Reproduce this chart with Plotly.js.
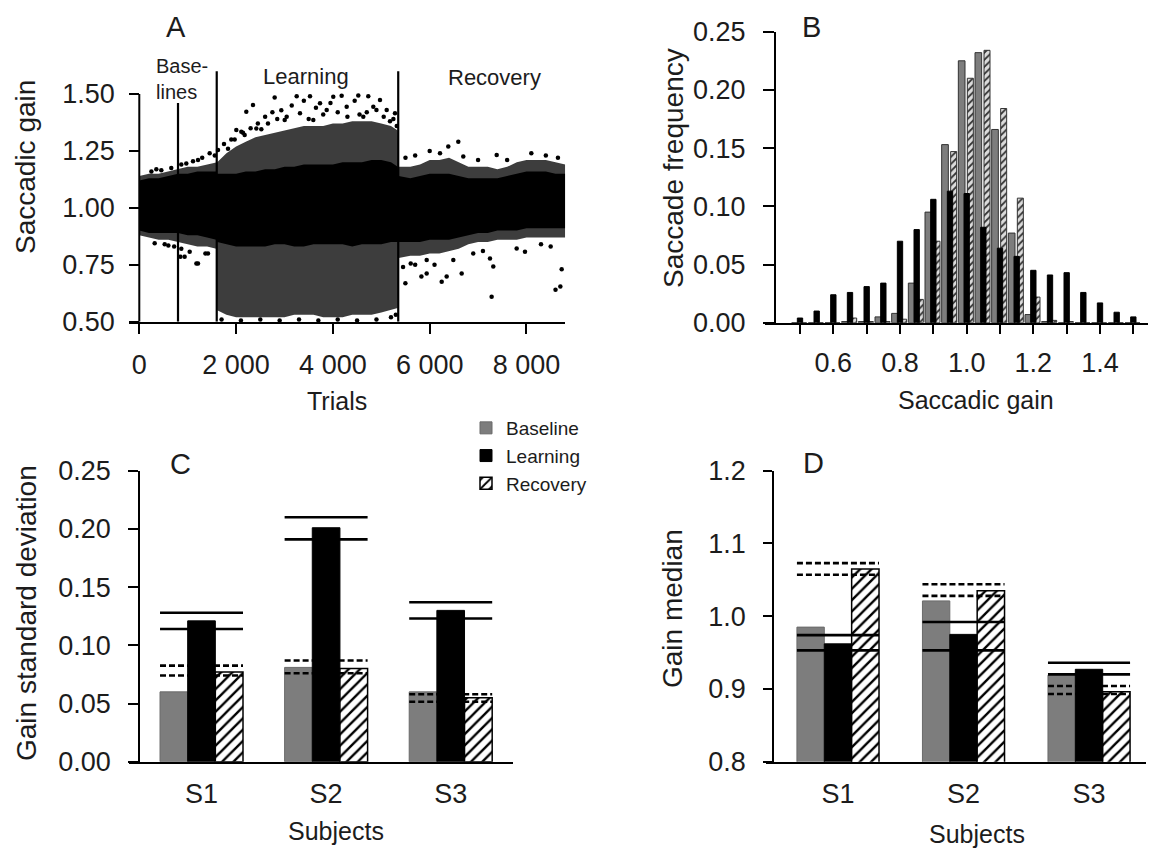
<!DOCTYPE html>
<html>
<head>
<meta charset="utf-8">
<script src="https://cdn.plot.ly/plotly-3.0.1.min.js"></script>
<style>html,body{margin:0;padding:0;background:#fff;}#chart{width:1149px;height:848px;}</style>
</head>
<body>
<div id="chart"></div>
<script>
// ---------------- DATA ----------------
// Panel A: saccadic gain per trial (cloud read as envelopes + individual outlying dots)
const aGrid = [0,200,400,600,800,1000,1200,1400,1590, 1610,1800,2000,2200,2400,2600,2800,3000,3200,3400,3600,3800,4000,4200,4400,4600,4800,5000,5200,5340, 5360,5600,5800,6000,6200,6400,6600,6800,7000,7200,7400,7600,7800,8000,8200,8400,8600,8800];
const aCoreLow  = [0.90,0.89,0.89,0.89,0.89,0.88,0.88,0.87,0.86, 0.85,0.84,0.83,0.83,0.83,0.83,0.84,0.84,0.83,0.83,0.84,0.84,0.84,0.84,0.83,0.84,0.84,0.84,0.85,0.85, 0.85,0.85,0.85,0.86,0.86,0.86,0.87,0.88,0.89,0.89,0.90,0.90,0.90,0.91,0.91,0.91,0.91,0.91];
const aCoreHigh = [1.12,1.13,1.13,1.14,1.15,1.15,1.16,1.16,1.16, 1.15,1.15,1.15,1.16,1.16,1.17,1.17,1.18,1.18,1.19,1.19,1.19,1.19,1.20,1.20,1.20,1.21,1.21,1.20,1.18, 1.14,1.13,1.14,1.15,1.15,1.15,1.14,1.13,1.13,1.13,1.13,1.14,1.15,1.16,1.16,1.16,1.15,1.15];
const aOuterLow  = [0.88,0.87,0.86,0.86,0.85,0.84,0.83,0.83,0.82, 0.55,0.53,0.52,0.52,0.52,0.52,0.52,0.52,0.53,0.53,0.53,0.52,0.52,0.52,0.53,0.53,0.53,0.54,0.55,0.56, 0.78,0.79,0.79,0.80,0.80,0.81,0.82,0.84,0.85,0.85,0.86,0.86,0.86,0.87,0.87,0.87,0.87,0.87];
const aOuterHigh = [1.14,1.15,1.15,1.16,1.17,1.18,1.18,1.19,1.20, 1.20,1.24,1.27,1.29,1.31,1.32,1.33,1.34,1.35,1.36,1.36,1.36,1.37,1.37,1.38,1.38,1.38,1.37,1.36,1.34, 1.18,1.18,1.19,1.21,1.21,1.22,1.20,1.18,1.18,1.18,1.17,1.18,1.20,1.21,1.21,1.21,1.20,1.19];
const aDotTrials = [318,525,868,937,1041,1213,1419,849,1180,1366,600,720,
  352,455,661,868,971,1110,1213,1454,1560,1300,250,
  1626,1833,2211,2349,2797,2005,2108,2177,1971,2143,2418,2521,2659,2934,3004,3252,3527,4008,4181,4525,4731,3734,3872,4285,4973,5112,5283,3045,3320,3595,4628,4835,5180,2600,2750,3150,3400,3650,3950,4100,4450,4900,5050,5250,3800,4300,4700,2850,2450,1750,1900,2300,3500,4550,5320,
  1700,2100,2500,2900,3300,3700,4100,4500,4900,5200,5300,
  6591,6384,6213,6694,7384,5938,6248,6351,6661,7246,7314,7280,7797,7969,8727,5938,6488,5608,5829,5498,8600,8700,5500,5700,6000,7000,7600,8100,8400,8650,6900,7100,8300,8500,5450,5700,6100];
const aDotGains = [0.845,0.840,0.820,0.785,0.807,0.756,0.800,0.785,0.756,0.800,0.835,0.830,
  1.170,1.165,1.175,1.190,1.195,1.205,1.210,1.240,1.230,1.220,1.160,
  1.254,1.260,1.422,1.452,1.485,1.342,1.334,1.320,1.300,1.330,1.349,1.345,1.371,1.429,1.386,1.490,1.490,1.488,1.492,1.493,1.490,1.459,1.430,1.444,1.474,1.430,1.415,1.400,1.415,1.386,1.400,1.444,1.380,1.400,1.420,1.450,1.470,1.440,1.460,1.420,1.470,1.430,1.400,1.390,1.410,1.400,1.420,1.390,1.370,1.280,1.300,1.350,1.390,1.410,1.360,
  0.510,0.505,0.510,0.505,0.510,0.505,0.510,0.505,0.510,0.520,0.530,
  1.290,1.269,1.240,1.225,1.232,0.712,0.676,0.698,0.712,0.778,0.742,0.610,0.822,0.807,0.730,0.771,0.771,0.756,0.698,0.669,0.640,0.655,1.220,1.230,1.250,1.210,1.210,1.240,1.230,1.220,0.800,0.810,0.840,0.830,0.740,0.750,0.750];
const phaseLineTrials = [800, 1600, 5350];
const phaseLineTops = [1.46, 1.60, 1.60];
const aTickVals = [0, 2000, 4000, 6000, 8000];
const aTickText = ['0', '2 000', '4 000', '6 000', '8 000'];

// Panel B: saccade frequency histograms
const binCenters = [0.50,0.55,0.60,0.65,0.70,0.75,0.80,0.85,0.90,0.95,1.00,1.05,1.10,1.15,1.20,1.25,1.30,1.35,1.40,1.45,1.50];
const freqBaseline = [0,0,0,0.001,0.001,0.005,0.008,0.034,0.095,0.153,0.225,0.232,0.166,0.077,0.007,0.001,0,0,0,0,0];
const freqLearning = [0.004,0.010,0.024,0.026,0.031,0.034,0.070,0.080,0.106,0.113,0.111,0.082,0.064,0.057,0.045,0.041,0.043,0.026,0.017,0.009,0.005];
const freqRecovery = [0,0,0,0.004,0.001,0.001,0.003,0.020,0.070,0.147,0.210,0.234,0.184,0.107,0.022,0.002,0.001,0,0,0,0];
const bTickVals = [0.5,0.6,0.7,0.8,0.9,1.0,1.1,1.2,1.3,1.4,1.5];
const bTickText = ['','0.6','','0.8','','1.0','','1.2','','1.4',''];

// Panels C and D
const subjects = ['S1', 'S2', 'S3'];
const sdBaseline = [0.060, 0.081, 0.060];
const sdLearning = [0.121, 0.201, 0.130];
const sdRecovery = [0.077, 0.080, 0.055];
const sdSolidHi = [0.128, 0.210, 0.137];
const sdSolidLo = [0.114, 0.191, 0.123];
const sdDashHi = [0.0825, 0.087, 0.058];
const sdDashLo = [0.074, 0.076, 0.0515];

const medBaseline = [0.985, 1.021, 0.919];
const medLearning = [0.962, 0.975, 0.927];
const medRecovery = [1.065, 1.035, 0.896];
const medSolidHi = [0.974, 0.992, 0.936];
const medSolidLo = [0.953, 0.953, 0.920];
const medDashHi = [1.073, 1.044, 0.904];
const medDashLo = [1.057, 1.028, 0.893];

// ---------------- HELPERS ----------------
const W = 1149, H = 848;
const fx = px => px / W;
const fy = py => 1 - py / H;
const FONT = 'Liberation Sans, Arial, Helvetica, sans-serif';
const TXT = '#1c1c1c';
const GRAY = '#7d7d7d';
const subjIdx = subjects.map((s, i) => i);

function segs(vals, half) {
  const x = [], y = [];
  vals.forEach((v, i) => { x.push(i - half, i + half, null); y.push(v, v, null); });
  return {x, y};
}

const traces = [];
// ---- Panel A ----
traces.push({x: aGrid, y: aOuterLow, xaxis: 'x', yaxis: 'y', mode: 'lines', line: {width: 0, color: 'rgba(0,0,0,0)'}, showlegend: false, hoverinfo: 'skip'});
traces.push({x: aGrid, y: aOuterHigh, xaxis: 'x', yaxis: 'y', mode: 'lines', fill: 'tonexty', fillcolor: 'rgba(0,0,0,0.76)', line: {width: 0, color: 'rgba(0,0,0,0)'}, showlegend: false, hoverinfo: 'skip'});
traces.push({x: aGrid, y: aCoreLow, xaxis: 'x', yaxis: 'y', mode: 'lines', line: {width: 0, color: 'rgba(0,0,0,0)'}, showlegend: false, hoverinfo: 'skip'});
traces.push({x: aGrid, y: aCoreHigh, xaxis: 'x', yaxis: 'y', mode: 'lines', fill: 'tonexty', fillcolor: '#000', line: {width: 0, color: 'rgba(0,0,0,0)'}, showlegend: false, hoverinfo: 'skip'});
traces.push({x: aDotTrials, y: aDotGains, xaxis: 'x', yaxis: 'y', mode: 'markers', marker: {size: 4.5, color: '#000'}, showlegend: false, cliponaxis: false});
(function(){
  const x = [], y = [];
  phaseLineTrials.forEach((t, i) => { x.push(t, t, null); y.push(0.5, phaseLineTops[i], null); });
  traces.push({x, y, xaxis: 'x', yaxis: 'y', mode: 'lines', line: {color: '#000', width: 2.2}, showlegend: false});
})();

// ---- Panel B ----
traces.push({type: 'bar', x: binCenters, y: freqBaseline, xaxis: 'x2', yaxis: 'y2', width: 0.02, offset: -0.025,
  marker: {color: GRAY, line: {color: '#333', width: 1}}, showlegend: false});
traces.push({type: 'bar', x: binCenters, y: freqRecovery, xaxis: 'x2', yaxis: 'y2', width: 0.018, offset: 0.002,
  marker: {color: '#dcdcdc', line: {color: '#333', width: 1}, pattern: {shape: '/', size: 5, solidity: 0.35, fgcolor: '#333', bgcolor: '#dcdcdc'}}, showlegend: false});
traces.push({type: 'bar', x: binCenters, y: freqLearning, xaxis: 'x2', yaxis: 'y2', width: 0.016, offset: -0.008,
  marker: {color: '#000', line: {color: '#000', width: 1}}, showlegend: false});

// ---- Panel C ----
const cW = 0.222;
traces.push({type: 'bar', name: 'Baseline', x: subjIdx, y: sdBaseline, xaxis: 'x3', yaxis: 'y3', width: cW, offset: -1.5 * cW,
  marker: {color: GRAY, line: {color: '#6a6a6a', width: 1}}, legendrank: 1});
traces.push({type: 'bar', name: 'Learning', x: subjIdx, y: sdLearning, xaxis: 'x3', yaxis: 'y3', width: cW, offset: -0.5 * cW,
  marker: {color: '#000', line: {color: '#000', width: 1}}, legendrank: 2});
traces.push({type: 'bar', name: 'Recovery', x: subjIdx, y: sdRecovery, xaxis: 'x3', yaxis: 'y3', width: cW, offset: 0.5 * cW,
  marker: {color: '#fff', line: {color: '#000', width: 1.5}, pattern: {shape: '/', size: 8, solidity: 0.3, fgcolor: '#000', bgcolor: '#fff'}}, legendrank: 3});
[[sdSolidHi, 'solid'], [sdSolidLo, 'solid'], [sdDashHi, '6px,3px'], [sdDashLo, '6px,3px']].forEach(([vals, dash]) => {
  const s = segs(vals, 1.5 * cW);
  traces.push({x: s.x, y: s.y, xaxis: 'x3', yaxis: 'y3', mode: 'lines', line: {color: '#000', width: 2.6, dash}, showlegend: false});
});

// ---- Panel D ----
const dW = 0.218;
traces.push({type: 'bar', x: subjIdx, y: medBaseline, xaxis: 'x4', yaxis: 'y4', width: dW, offset: -1.5 * dW,
  marker: {color: GRAY, line: {color: '#6a6a6a', width: 1}}, showlegend: false});
traces.push({type: 'bar', x: subjIdx, y: medLearning, xaxis: 'x4', yaxis: 'y4', width: dW, offset: -0.5 * dW,
  marker: {color: '#000', line: {color: '#000', width: 1}}, showlegend: false});
traces.push({type: 'bar', x: subjIdx, y: medRecovery, xaxis: 'x4', yaxis: 'y4', width: dW, offset: 0.5 * dW,
  marker: {color: '#fff', line: {color: '#000', width: 1.5}, pattern: {shape: '/', size: 8, solidity: 0.3, fgcolor: '#000', bgcolor: '#fff'}}, showlegend: false});
[[medSolidHi, 'solid'], [medSolidLo, 'solid'], [medDashHi, '6px,3px'], [medDashLo, '6px,3px']].forEach(([vals, dash]) => {
  const s = segs(vals, 1.5 * dW);
  traces.push({x: s.x, y: s.y, xaxis: 'x4', yaxis: 'y4', mode: 'lines', line: {color: '#000', width: 2.6, dash}, showlegend: false});
});

// ---------------- LAYOUT ----------------
const tickFont = {family: FONT, size: 27, color: TXT};
const baseAx = {showgrid: false, zeroline: false, linecolor: '#000', linewidth: 2, tickcolor: '#000', tickwidth: 2, tickfont: tickFont, fixedrange: true};

function ann(text, px, py, size, opts) {
  return Object.assign({text, x: fx(px), y: fy(py), xref: 'paper', yref: 'paper', showarrow: false,
    xanchor: 'center', yanchor: 'middle', font: {family: FONT, size, color: TXT}}, opts || {});
}

const layout = {
  width: W, height: H,
  margin: {l: 0, r: 0, t: 0, b: 0},
  paper_bgcolor: '#fff', plot_bgcolor: 'rgba(0,0,0,0)',
  barmode: 'overlay',
  hovermode: false,
  font: {family: FONT, color: TXT},
  showlegend: true,
  legend: {x: fx(466), y: fy(409), xanchor: 'left', yanchor: 'top', bgcolor: 'rgba(0,0,0,0)',
    font: {family: FONT, size: 19, color: TXT}, tracegroupgap: 0, itemwidth: 30, traceorder: 'normal'},
  xaxis: Object.assign({}, baseAx, {domain: [fx(128.5), fx(565.2)], range: [-223, 8800], anchor: 'y',
    tickmode: 'array', tickvals: aTickVals, ticktext: aTickText, ticks: 'outside', ticklen: 10, showline: true, ticklabelstandoff: 8}),
  yaxis: Object.assign({}, baseAx, {domain: [fy(321.7), fy(70.1)], range: [0.5, 1.605], anchor: 'free', position: fx(139.3),
    tickmode: 'array', tickvals: [0.5, 0.75, 1.0, 1.25, 1.5], tickformat: '.2f', ticks: 'outside', ticklen: 10, showline: false, ticklabelstandoff: 9}),
  xaxis2: Object.assign({}, baseAx, {domain: [fx(765), fx(1148)], range: [0.395, 1.544], anchor: 'y2',
    tickmode: 'array', tickvals: bTickVals, ticktext: bTickText, ticks: 'outside', ticklen: 9, showline: true, ticklabelstandoff: 6}),
  yaxis2: Object.assign({}, baseAx, {domain: [fy(322.7), fy(31.7)], range: [0, 0.25], anchor: 'free', position: fx(775),
    tickmode: 'array', tickvals: [0, 0.05, 0.10, 0.15, 0.20, 0.25], tickformat: '.2f', ticks: 'outside', ticklen: 11, showline: true, ticklabelstandoff: 12}),
  xaxis3: Object.assign({}, baseAx, {domain: [fx(128.5), fx(513)], range: [-0.586, 2.5], anchor: 'y3',
    tickmode: 'array', tickvals: subjIdx, ticktext: subjects, ticks: '', showline: true, ticklabelstandoff: 7}),
  yaxis3: Object.assign({}, baseAx, {domain: [fy(761.7), fy(470.7)], range: [0, 0.25], anchor: 'free', position: fx(139.2),
    tickmode: 'array', tickvals: [0, 0.05, 0.10, 0.15, 0.20, 0.25], tickformat: '.2f', ticks: 'outside', ticklen: 10, showline: true, ticklabelstandoff: 12}),
  xaxis4: Object.assign({}, baseAx, {domain: [fx(766.3), fx(1146)], range: [-0.571, 2.454], anchor: 'y4',
    tickmode: 'array', tickvals: subjIdx, ticktext: subjects, ticks: '', showline: true, ticklabelstandoff: 7}),
  yaxis4: Object.assign({}, baseAx, {domain: [fy(761.7), fy(470.7)], range: [0.8, 1.2], anchor: 'free', position: fx(773.3),
    tickmode: 'array', tickvals: [0.8, 0.9, 1.0, 1.1, 1.2], tickformat: '.1f', ticks: 'outside', ticklen: 9, showline: true, ticklabelstandoff: 12}),
  shapes: [
    {type: 'line', xref: 'x', yref: 'y', x0: 0, x1: 0, y0: 0.5, y1: 1.5, line: {color: '#000', width: 2}}
  ],
  annotations: [
    ann('A', 176, 27, 29), ann('B', 811, 27, 29), ann('C', 180, 464, 29), ann('D', 813, 463, 29),
    ann('Base-<br>lines', 154, 79, 20, {xanchor: 'left', align: 'left'}),
    ann('Learning', 306, 76, 22), ann('Recovery', 494, 78, 22),
    ann('Saccadic gain', 25, 167, 28, {textangle: -90}),
    ann('Trials', 337, 401, 25),
    ann('Saccade frequency', 673, 168, 28, {textangle: -90}),
    ann('Saccadic gain', 976, 400, 25),
    ann('Gain standard deviation', 26, 613, 28, {textangle: -90}),
    ann('Subjects', 336, 831, 25),
    ann('Gain median', 672, 609, 28, {textangle: -90}),
    ann('Subjects', 977, 834, 25)
  ]
};

Plotly.newPlot('chart', traces, layout, {staticPlot: true, displayModeBar: false});
</script>
</body>
</html>
